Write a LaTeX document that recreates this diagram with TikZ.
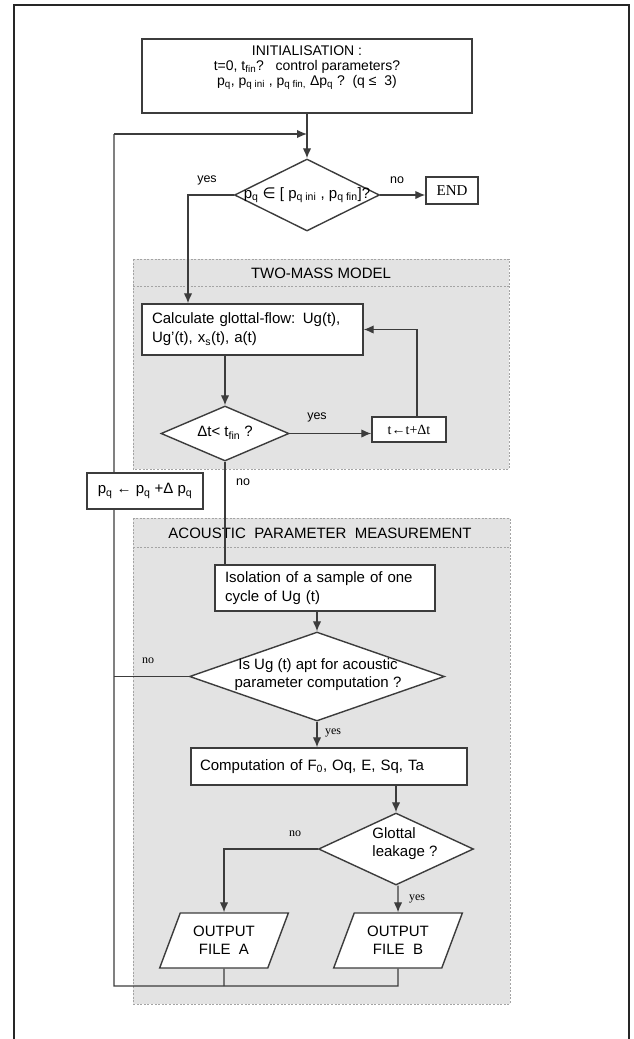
\documentclass[tikz,border=0pt]{standalone}
\usepackage{fontspec}
\setmainfont{Liberation Sans}
\newfontfamily\serf{Liberation Serif}
\newfontfamily\symf{DejaVu Sans}
\usetikzlibrary{shapes.geometric,arrows.meta}
\definecolor{boxline}{HTML}{3C3C3C}
\definecolor{regionfill}{HTML}{E3E3E3}
\definecolor{regionline}{HTML}{A4A4A4}
\tikzset{
  >={Latex[length=10pt,width=8.5pt]},
  flow/.style={draw=boxline,line width=1.3pt},
  proc/.style={draw=boxline,line width=1.4pt,fill=white,rectangle,inner sep=0pt,
    font=\fontsize{15}{19}\selectfont},
  decision/.style={draw=boxline,line width=1.4pt,fill=white,diamond,inner sep=0pt},
  iobox/.style={draw=boxline,line width=1.4pt,fill=white,trapezium,
    trapezium left angle=63,trapezium right angle=117,trapezium stretches=true,
    minimum width=129,minimum height=55,inner sep=0pt,align=center,
    font=\fontsize{15}{18}\selectfont},
  region/.style={fill=regionfill,draw=regionline,line width=0.9pt,dash pattern=on 2pt off 1.6pt},
  txt/.style={font=\fontsize{15}{18}\selectfont,inner sep=0pt},
  lbl/.style={font=\fontsize{12.5}{14}\selectfont,inner sep=0pt},
  slbl/.style={font=\serf\fontsize{12}{14}\selectfont,inner sep=0pt}
}

\begin{document}
\begin{tikzpicture}[x=1pt,y=-1pt]
 \useasboundingbox (0,0) rectangle (634,1039);
 \draw[line width=2.2pt,black!85] (14,1039) |- (629,5) -- (629,1039);

 % shaded blocks
 \draw[region] (133,259) rectangle (509,469);
 \draw[regionline,line width=0.9pt,dash pattern=on 2pt off 1.6pt] (133,286) -- (509,286);
 \draw[region] (133,518) rectangle (510,1004);
 \draw[regionline,line width=0.9pt,dash pattern=on 2pt off 1.6pt] (133,547) -- (510,547);
 \node[txt] (twomass) at (321,273) {TWO-MASS MODEL};
 \node[txt] (acoustic) at (320,533) {ACOUSTIC\ \ PARAMETER\ \ MEASUREMENT};

 % boxes
 \node[proc,minimum width=330,minimum height=74] (init) at (307,76) {};
 \node[txt,align=center,font=\fontsize{14}{14.8}\selectfont] (inittxt) at (307,67.5)
   {INITIALISATION :\\ t=0, t\textsubscript{fin}?\ \ \ control parameters?\\
    p\textsubscript{q}, p\textsubscript{q ini} , p\textsubscript{q fin,} Δp\textsubscript{q} ?\ \ (q ≤\ \ 3)};
 \node[decision,minimum width=145,minimum height=72] (range) at (307,195) {};
 \node[txt] (rangetxt) at (307,195)
   {p\textsubscript{q} {\symf ∈} [ p\textsubscript{q ini} , p\textsubscript{q fin}]?};
 \node[proc,font=\serf\fontsize{15}{18}\selectfont,minimum width=52,minimum height=27] (end) at (452,190.5) {END};
 \node[proc,minimum width=221,minimum height=51,text width=201,align=left] (calc) at (252.5,329.5)
   {Calculate glottal-flow: Ug(t),\\ Ug'(t), x\textsubscript{s}(t), a(t)};
 \node[decision,minimum width=128,minimum height=55] (dt) at (225,433.5) {};
 \node[txt] (dttxt) at (225,433) {Δt< t\textsubscript{fin} ?};
 \node[proc,font=\serf\fontsize{14}{17}\selectfont,minimum width=74,minimum height=25] (tstep) at (409,429.5) {t←t+Δt};
 \node[proc,minimum width=220,minimum height=46,text width=200,align=left] (iso) at (325,588)
   {Isolation of a sample of one\\ cycle of Ug (t)};
 \node[decision,minimum width=255,minimum height=89] (apt) at (317,676.5) {};
 \node[txt,align=center] (apttxt) at (318,675) {Is Ug (t) apt for acoustic\\ parameter computation ?};
 \node[proc,minimum width=276,minimum height=37,text width=258,align=left] (comp) at (329,766.5)
   {Computation of F\textsubscript{0}, Oq, E, Sq, Ta};
 \node[decision,minimum width=155,minimum height=72] (leak) at (396,849) {};
 \node[txt,align=left] (leaktxt) at (405,844) {Glottal\\ leakage ?};
 \node[iobox] (outa) at (224,940.5) {OUTPUT\\FILE\ \ A};
 \node[iobox] (outb) at (398,940.5) {OUTPUT\\FILE\ \ B};

 % connectors
 \coordinate (loop) at (114,134);
 \coordinate (back) at (114,986);
 \coordinate (yesturn) at (188,195);
 \draw[flow,->] (init) -- (range);
 \draw[flow] (outa) -- (outa |- back);
 \draw[flow] (outb) -- (outb |- back) -- (back) -- (loop);
 \draw[flow,->] (loop) -- (init.south |- loop);
 \node[proc,minimum width=116,minimum height=36] (incr) at (145,491)
   {p\textsubscript{q} ← p\textsubscript{q} +Δ p\textsubscript{q}};
 \draw[flow,->] (range.west) -- (yesturn) -- (yesturn |- calc.north);
 \draw[flow,->] (range.east) -- (range.east -| end.west);
 \draw[flow,->] (calc.south -| dt.north) -- (dt.north);
 \draw[flow,->] (dt.east) -- (dt.east -| tstep.west);
 \draw[flow,->] ([xshift=8pt]tstep.north) |- (calc.east);
 \draw[flow] (dt.south) -- (dt.south |- iso.north);
 \draw[flow,->] (iso.south -| apt.north) -- (apt.north);
 \draw[flow] (apt.west) -- (apt.west -| loop);
 \draw[flow,->] (apt.south) -- (apt.south |- comp.north);
 \draw[flow,->] (comp.south -| leak.north) -- (leak.north);
 \draw[flow,->] (leak.west) -| (outa);
 \draw[flow,->] (leak.south -| outb) -- (outb);

 % labels
 \node[lbl] (yesrange) at (207,180) {yes};
 \node[lbl] (norange) at (397,180) {no};
 \node[lbl] (yesdt) at (317,417) {yes};
 \node[lbl] (nodt) at (243,482) {no};
 \node[slbl] (noapt) at (148,661) {no};
 \node[slbl] (yesapt) at (333,733) {yes};
 \node[slbl] (noleak) at (295,834) {no};
 \node[slbl] (yesleak) at (417,899) {yes};
\end{tikzpicture}
\end{document}
